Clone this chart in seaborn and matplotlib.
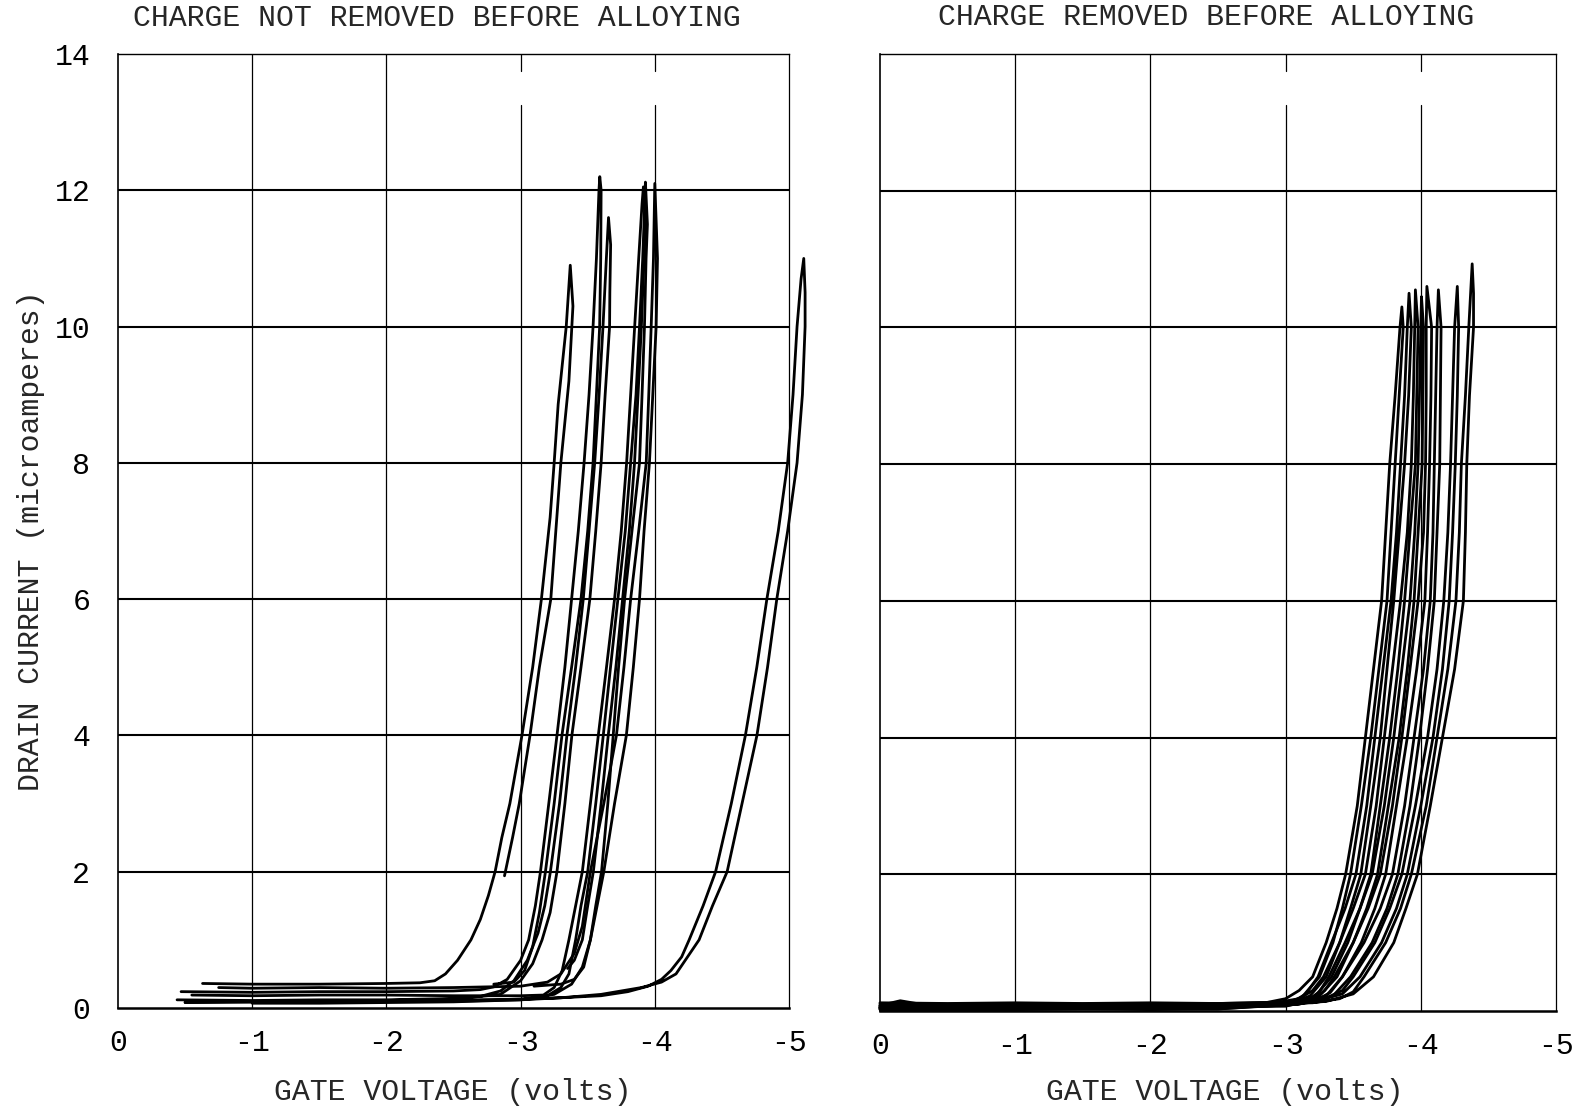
import matplotlib
matplotlib.use("Agg")
import matplotlib.pyplot as plt
import pandas as pd
import seaborn as sns

# ---------------- data ----------------
left_title = "CHARGE NOT REMOVED BEFORE ALLOYING"
right_title = "CHARGE REMOVED BEFORE ALLOYING"
x_label = "GATE VOLTAGE (volts)"
y_label = "DRAIN CURRENT (microamperes)"
x_ticks = [0, -1, -2, -3, -4, -5]
x_tick_labels = ["0", "-1", "-2", "-3", "-4", "-5"]
y_ticks = [0, 2, 4, 6, 8, 10, 12, 14]
y_tick_labels = ["0", "2", "4", "6", "8", "10", "12", "14"]

# left panel: hysteresis loops (gate voltage V, drain current uA)
loop_A = [(-0.63,0.36),(-1.0,0.35),(-1.5,0.35),(-2.0,0.36),(-2.25,0.37),(-2.36,0.40),(-2.44,0.50),
          (-2.53,0.70),(-2.63,1.0),(-2.70,1.3),(-2.76,1.65),(-2.81,2.0),(-2.86,2.5),(-2.92,3.0),(-3.01,4.0),
          (-3.09,5.0),(-3.155,6.0),(-3.22,7.2),(-3.25,8.0),(-3.28,8.86),(-3.34,10.0),(-3.37,10.9),
          (-3.39,10.3),(-3.36,9.2),(-3.30,8.0),(-3.225,6.0),(-3.14,5.0),(-3.07,4.0),(-2.99,3.0),
          (-2.94,2.5),(-2.88,1.94)]
loop_B = [(-0.47,0.24),(-1.0,0.23),(-1.5,0.24),(-2.0,0.24),(-2.5,0.25),(-2.7,0.27),(-2.80,0.31),
          (-2.90,0.42),(-3.0,0.70),(-3.06,1.0),(-3.11,1.5),(-3.148,2.0),(-3.21,3.0),(-3.271,4.0),
          (-3.33,5.0),(-3.38,6.0),(-3.43,7.0),(-3.473,8.0),(-3.51,9.0),(-3.54,10.0),(-3.565,11.0),
          (-3.584,12.0),(-3.59,12.2),(-3.60,12.0),(-3.597,11.0),(-3.589,10.0),(-3.565,9.0),
          (-3.54,8.0),(-3.50,7.0),(-3.45,6.0),(-3.38,5.0),(-3.308,4.0),(-3.25,3.0),(-3.185,2.0),
          (-3.14,1.4),(-3.09,0.9),(-3.03,0.55),(-2.95,0.38),(-2.80,0.35)]
loop_C = [(-0.44,0.12),(-1.0,0.11),(-1.5,0.12),(-2.0,0.12),(-2.5,0.14),(-2.7,0.17),(-2.85,0.25),
          (-2.95,0.40),(-3.05,0.70),(-3.13,1.1),(-3.18,1.5),(-3.222,2.0),(-3.29,3.0),(-3.345,4.0),
          (-3.41,5.0),(-3.467,6.0),(-3.51,7.0),(-3.552,8.0),(-3.585,9.0),(-3.614,10.0),
          (-3.639,11.0),(-3.655,11.6),(-3.671,11.2),(-3.665,10.5),(-3.663,10.0),(-3.63,9.0),
          (-3.60,8.0),(-3.56,7.0),(-3.516,6.0),(-3.45,5.0),(-3.382,4.0),(-3.33,3.0),(-3.271,2.0),
          (-3.22,1.4),(-3.16,1.0),(-3.09,0.65),(-3.0,0.40),(-2.85,0.20),(-2.5,0.13),(-2.0,0.11),
          (-1.5,0.10),(-1.0,0.09),(-0.5,0.08)]
loop_D1 = [(-0.55,0.19),(-1.0,0.18),(-1.5,0.19),(-2.0,0.19),(-2.5,0.18),(-3.0,0.18),(-3.17,0.19),
           (-3.25,0.30),(-3.31,0.55),(-3.36,1.0),(-3.41,1.5),(-3.46,2.0),(-3.52,3.0),(-3.579,4.0),
           (-3.64,5.0),(-3.70,6.0),(-3.75,7.0),(-3.79,8.0),(-3.82,9.0),(-3.85,10.0),(-3.88,11.0),
           (-3.905,11.8),(-3.915,12.05),(-3.93,11.5),(-3.92,11.0),(-3.90,10.0),(-3.875,9.0),
           (-3.849,8.0),(-3.81,7.0),(-3.76,6.0),(-3.71,5.0),(-3.653,4.0),(-3.60,3.0),(-3.542,2.0),
           (-3.50,1.5),(-3.46,1.0),(-3.40,0.7),(-3.35,0.58)]
loop_D2 = [(-0.5,0.10),(-1.0,0.09),(-1.5,0.10),(-2.0,0.10),(-2.5,0.11),(-3.0,0.13),(-3.2,0.18),
           (-3.30,0.30),(-3.36,0.50),(-3.41,1.0),(-3.45,1.5),(-3.50,2.0),(-3.56,3.0),(-3.616,4.0),
           (-3.67,5.0),(-3.725,6.0),(-3.78,7.0),(-3.82,8.0),(-3.86,9.0),(-3.886,10.0),(-3.91,11.0),
           (-3.925,11.8),(-3.93,12.12),(-3.945,11.5),(-3.935,11.0),(-3.923,10.0),(-3.905,9.0),
           (-3.886,8.0),(-3.83,7.0),(-3.775,6.0),(-3.73,5.0),(-3.69,4.0),(-3.65,3.0),(-3.603,2.0),
           (-3.56,1.5),(-3.52,1.0),(-3.46,0.6),(-3.38,0.35),(-3.25,0.20),(-3.0,0.12),(-2.5,0.09),
           (-2.0,0.08),(-1.5,0.07),(-1.0,0.07)]
loop_E = [(-0.75,0.30),(-1.0,0.29),(-1.5,0.30),(-2.0,0.29),(-2.5,0.30),(-3.0,0.32),(-3.2,0.38),
          (-3.30,0.50),(-3.40,0.80),(-3.46,1.2),(-3.52,2.0),(-3.62,3.0),(-3.714,4.0),(-3.77,5.0),
          (-3.82,6.0),(-3.88,7.0),(-3.936,8.0),(-3.955,9.0),(-3.973,10.0),(-3.99,11.0),(-4.0,12.1),
          (-4.02,11.0),(-4.01,10.0),(-3.985,9.0),(-3.96,8.0),(-3.92,7.0),(-3.886,6.0),(-3.84,5.0),
          (-3.788,4.0),(-3.70,3.0),(-3.62,2.0),(-3.57,1.5),(-3.52,1.0),(-3.47,0.6),(-3.40,0.42),
          (-3.3,0.35),(-3.1,0.32)]
loop_F = [(-0.5,0.08),(-1.0,0.09),(-1.5,0.09),(-2.0,0.10),(-2.5,0.11),(-3.0,0.13),(-3.3,0.15),
          (-3.6,0.18),(-3.8,0.24),(-3.95,0.32),(-4.05,0.42),(-4.12,0.55),(-4.20,0.75),(-4.256,1.0),
          (-4.36,1.5),(-4.453,2.0),(-4.57,3.0),(-4.675,4.0),(-4.76,5.0),(-4.835,6.0),(-4.92,7.0),
          (-4.99,8.0),(-5.03,9.0),(-5.06,10.0),(-5.09,10.7),(-5.11,11.0),(-5.12,10.5),(-5.12,10.0),
          (-5.10,9.0),(-5.06,8.0),(-4.99,7.0),(-4.909,6.0),(-4.84,5.0),(-4.761,4.0),(-4.65,3.0),
          (-4.539,2.0),(-4.43,1.5),(-4.33,1.0),(-4.158,0.5),(-4.05,0.38),(-3.9,0.30),(-3.6,0.20),
          (-3.3,0.15),(-3.0,0.12),(-2.5,0.10)]

# right panel loops
loop_R1 = [(0.0,0.08),(-0.15,0.15),(-0.3,0.10),(-0.6,0.09),(-1.0,0.10),(-1.5,0.09),(-2.0,0.10),
           (-2.5,0.10),(-2.85,0.12),(-3.0,0.18),(-3.1,0.30),(-3.20,0.50),(-3.30,1.0),(-3.38,1.5),
           (-3.444,2.0),(-3.53,3.0),(-3.59,4.0),(-3.65,5.0),(-3.71,6.0),(-3.74,7.0),(-3.77,8.0),
           (-3.81,9.0),(-3.846,10.0),(-3.86,10.3),(-3.87,10.0),(-3.84,9.0),(-3.81,8.0),(-3.78,7.0),
           (-3.75,6.0),(-3.69,5.0),(-3.63,4.0),(-3.56,3.0),(-3.48,2.0),(-3.42,1.5),(-3.35,1.0),
           (-3.25,0.5),(-3.12,0.2),(-2.95,0.08),(-2.5,0.05),(-2.0,0.04),(-1.5,0.05),(-1.0,0.04),
           (-0.5,0.03),(0.0,0.03)]
loop_R2 = [(0.0,0.07),(-0.5,0.06),(-1.0,0.07),(-1.5,0.06),(-2.0,0.07),(-2.5,0.07),(-2.9,0.08),
           (-3.05,0.13),(-3.15,0.25),(-3.24,0.5),(-3.34,1.0),(-3.44,1.5),(-3.52,2.0),(-3.60,3.0),
           (-3.66,4.0),(-3.72,5.0),(-3.78,6.0),(-3.82,7.0),(-3.85,8.0),(-3.88,9.0),(-3.90,10.0),
           (-3.913,10.5),(-3.93,10.0),(-3.91,9.0),(-3.88,8.0),(-3.84,7.0),(-3.80,6.0),(-3.75,5.0),
           (-3.70,4.0),(-3.63,3.0),(-3.556,2.0),(-3.48,1.5),(-3.40,1.0),(-3.30,0.5),(-3.18,0.22),
           (-3.0,0.09),(-2.5,0.06),(-2.0,0.05),(-1.5,0.05),(-1.0,0.06),(-0.5,0.05),(0.0,0.05)]
loop_R3 = [(0.0,0.12),(-0.5,0.11),(-1.0,0.12),(-1.5,0.11),(-2.0,0.12),(-2.5,0.11),(-2.95,0.13),
           (-3.1,0.18),(-3.2,0.30),(-3.28,0.5),(-3.40,1.0),(-3.50,1.5),(-3.59,2.0),(-3.67,3.0),
           (-3.73,4.0),(-3.79,5.0),(-3.85,6.0),(-3.90,7.0),(-3.93,8.0),(-3.945,9.0),(-3.955,10.0),
           (-3.96,10.55),(-3.98,10.0),(-3.97,9.0),(-3.96,8.0),(-3.92,7.0),(-3.88,6.0),(-3.83,5.0),
           (-3.77,4.0),(-3.70,3.0),(-3.63,2.0),(-3.55,1.5),(-3.46,1.0),(-3.34,0.5),(-3.22,0.22),
           (-3.05,0.10),(-2.5,0.03),(-2.0,0.02),(-1.5,0.03),(-1.0,0.02),(-0.5,0.02),(0.0,0.02)]
loop_R4 = [(0.0,0.05),(-0.5,0.05),(-1.0,0.04),(-1.5,0.05),(-2.0,0.05),(-2.5,0.06),(-3.0,0.07),
           (-3.15,0.14),(-3.25,0.28),(-3.32,0.5),(-3.44,1.0),(-3.55,1.5),(-3.64,2.0),(-3.73,3.0),
           (-3.80,4.0),(-3.86,5.0),(-3.92,6.0),(-3.955,7.0),(-3.98,8.0),(-3.99,9.0),(-4.00,10.0),
           (-4.005,10.45),(-4.02,10.0),(-4.015,9.0),(-4.01,8.0),(-3.98,7.0),(-3.95,6.0),(-3.90,5.0),
           (-3.84,4.0),(-3.76,3.0),(-3.68,2.0),(-3.60,1.5),(-3.50,1.0),(-3.38,0.5),(-3.25,0.22),
           (-3.05,0.10),(-2.5,0.07),(-2.0,0.06),(-1.5,0.07),(-1.0,0.06),(-0.5,0.07),(0.0,0.06)]
loop_R5 = [(0.0,0.09),(-0.5,0.08),(-1.0,0.09),(-1.5,0.10),(-2.0,0.09),(-2.5,0.09),(-3.0,0.10),
           (-3.2,0.16),(-3.29,0.30),(-3.36,0.5),(-3.50,1.0),(-3.61,1.5),(-3.70,2.0),(-3.79,3.0),
           (-3.86,4.0),(-3.92,5.0),(-3.98,6.0),(-4.02,7.0),(-4.035,8.0),(-4.04,9.0),(-4.04,10.0),
           (-4.045,10.6),(-4.08,10.0),(-4.075,9.0),(-4.065,8.0),(-4.05,7.0),(-4.03,6.0),(-3.97,5.0),
           (-3.90,4.0),(-3.82,3.0),(-3.74,2.0),(-3.66,1.5),(-3.56,1.0),(-3.42,0.5),(-3.30,0.22),
           (-3.10,0.11),(-2.5,0.04),(-2.0,0.05),(-1.5,0.04),(-1.0,0.05),(-0.5,0.04),(0.0,0.04)]
loop_R6 = [(0.0,0.06),(-0.5,0.07),(-1.0,0.06),(-1.5,0.07),(-2.0,0.06),(-2.5,0.07),(-3.0,0.08),
           (-3.2,0.13),(-3.33,0.27),(-3.42,0.5),(-3.58,1.0),(-3.70,1.5),(-3.79,2.0),(-3.88,3.0),
           (-3.95,4.0),(-4.02,5.0),(-4.07,6.0),(-4.09,7.0),(-4.10,8.0),(-4.11,9.0),(-4.12,10.0),
           (-4.13,10.55),(-4.15,10.0),(-4.145,9.0),(-4.14,8.0),(-4.12,7.0),(-4.10,6.0),(-4.05,5.0),
           (-3.99,4.0),(-3.92,3.0),(-3.83,2.0),(-3.75,1.5),(-3.64,1.0),(-3.48,0.5),(-3.35,0.22),
           (-3.10,0.10),(-2.5,0.03),(-2.0,0.04),(-1.5,0.03),(-1.0,0.03),(-0.5,0.04),(0.0,0.03)]
loop_R7 = [(0.0,0.11),(-0.5,0.10),(-1.0,0.11),(-1.5,0.10),(-2.0,0.11),(-2.5,0.11),(-3.1,0.13),
           (-3.3,0.19),(-3.42,0.30),(-3.50,0.5),(-3.66,1.0),(-3.77,1.5),(-3.86,2.0),(-3.96,3.0),
           (-4.05,4.0),(-4.12,5.0),(-4.17,6.0),(-4.20,7.0),(-4.22,8.0),(-4.235,9.0),(-4.25,10.0),
           (-4.27,10.6),(-4.28,10.0),(-4.27,9.0),(-4.255,8.0),(-4.235,7.0),(-4.21,6.0),(-4.16,5.0),
           (-4.09,4.0),(-4.0,3.0),(-3.90,2.0),(-3.82,1.5),(-3.71,1.0),(-3.55,0.5),(-3.42,0.25),
           (-3.20,0.13),(-2.5,0.05),(-2.0,0.06),(-1.5,0.05),(-1.0,0.05),(-0.5,0.06),(0.0,0.05)]
loop_R8 = [(0.0,0.08),(-0.5,0.09),(-1.0,0.08),(-1.5,0.09),(-2.0,0.08),(-2.5,0.09),(-3.2,0.12),
           (-3.4,0.18),(-3.5,0.28),(-3.58,0.5),(-3.74,1.0),(-3.85,1.5),(-3.93,2.0),(-4.04,3.0),
           (-4.12,4.0),(-4.20,5.0),(-4.26,6.0),(-4.285,7.0),(-4.30,8.0),(-4.33,9.0),(-4.355,10.0),
           (-4.38,10.93),(-4.39,10.5),(-4.39,10.0),(-4.36,9.0),(-4.34,8.0),(-4.33,7.0),(-4.315,6.0),
           (-4.25,5.0),(-4.16,4.0),(-4.07,3.0),(-3.975,2.0),(-3.89,1.5),(-3.80,1.0),(-3.65,0.5),
           (-3.50,0.25),(-3.30,0.14),(-2.5,0.04),(-2.0,0.05),(-1.5,0.04),(-1.0,0.04),(-0.5,0.05),
           (0.0,0.04)]

left_loops = {"A": loop_A, "B": loop_B, "C": loop_C, "D1": loop_D1, "D2": loop_D2,
              "E": loop_E, "F": loop_F}
right_loops = {"R1": loop_R1, "R2": loop_R2, "R3": loop_R3, "R4": loop_R4,
               "R5": loop_R5, "R6": loop_R6, "R7": loop_R7, "R8": loop_R8}

# ---------------- build long table ----------------
rows = []
for panel, loops in (("left", left_loops), ("right", right_loops)):
    for name, pts in loops.items():
        for order, (v, i) in enumerate(pts):
            rows.append({"panel": panel, "loop": name, "order": order, "V": v, "I": i})
df = pd.DataFrame(rows)

# ---------------- style ----------------
sns.set_theme(style="white")
plt.rcParams["font.family"] = ["Liberation Mono", "DejaVu Sans"]
FS = 21.5

W, H = 1586, 1109
fig = plt.figure(figsize=(W / 100, H / 100), dpi=100)
fig.patch.set_facecolor("white")

def frac(x0, x1, ytop, ybot):
    return [x0 / W, 1 - ybot / H, (x1 - x0) / W, (ybot - ytop) / H]

ax_l = fig.add_axes(frac(118, 789, 54, 1008))
ax_r = fig.add_axes(frac(880, 1556, 54, 1011))

for ax, panel in ((ax_l, "left"), (ax_r, "right")):
    sub = df[df["panel"] == panel]
    sns.lineplot(data=sub, x="V", y="I", units="loop", estimator=None, sort=False,
                 color="black", lw=2.0, legend=False, ax=ax, clip_on=False, zorder=5,
                 solid_joinstyle="round", solid_capstyle="round")
    ax.set_xlim(0, -5)
    ax.set_ylim(0, 14)
    ax.set_facecolor("white")
    ax.set_xlabel("")
    ax.set_ylabel("")
    # grid
    for y in [2, 4, 6, 8, 10, 12]:
        ax.axhline(y, color="black", lw=1.5, zorder=1)
    for x in [-1, -2]:
        ax.axvline(x, color="black", lw=0.9, zorder=1)
    for x in [-3, -4]:
        ax.axvline(x, ymin=0, ymax=13.25 / 14, color="black", lw=0.9, zorder=1)
        ax.axvline(x, ymin=13.75 / 14, ymax=1, color="black", lw=0.9, zorder=1)
    ax.set_xticks(x_ticks)
    ax.set_xticklabels(x_tick_labels)
    ax.set_yticks(y_ticks)
    ax.tick_params(axis="both", length=0, labelsize=FS, colors="black")
    ax.tick_params(axis="x", pad=15)
    ax.tick_params(axis="y", pad=20)
    for side, lw in (("left", 1.2), ("bottom", 1.8), ("top", 1.0), ("right", 0.9)):
        ax.spines[side].set_visible(True)
        ax.spines[side].set_color("black")
        ax.spines[side].set_linewidth(lw)

ax_l.set_yticklabels(y_tick_labels)
ax_r.set_yticklabels([""] * len(y_ticks))

# texts
fig.text(437 / W, 1 - 18 / H, left_title, ha="center", va="center", fontsize=FS)
fig.text(1206 / W, 1 - 17 / H, right_title, ha="center", va="center", fontsize=FS)
fig.text(453 / W, 1 - 1092 / H, x_label, ha="center", va="center", fontsize=FS)
fig.text(1225 / W, 1 - 1092 / H, x_label, ha="center", va="center", fontsize=FS)
fig.text(31 / W, 1 - 541 / H, y_label, ha="center", va="center", rotation=90, fontsize=FS)

fig.savefig("out.png", dpi=100, facecolor="white")
